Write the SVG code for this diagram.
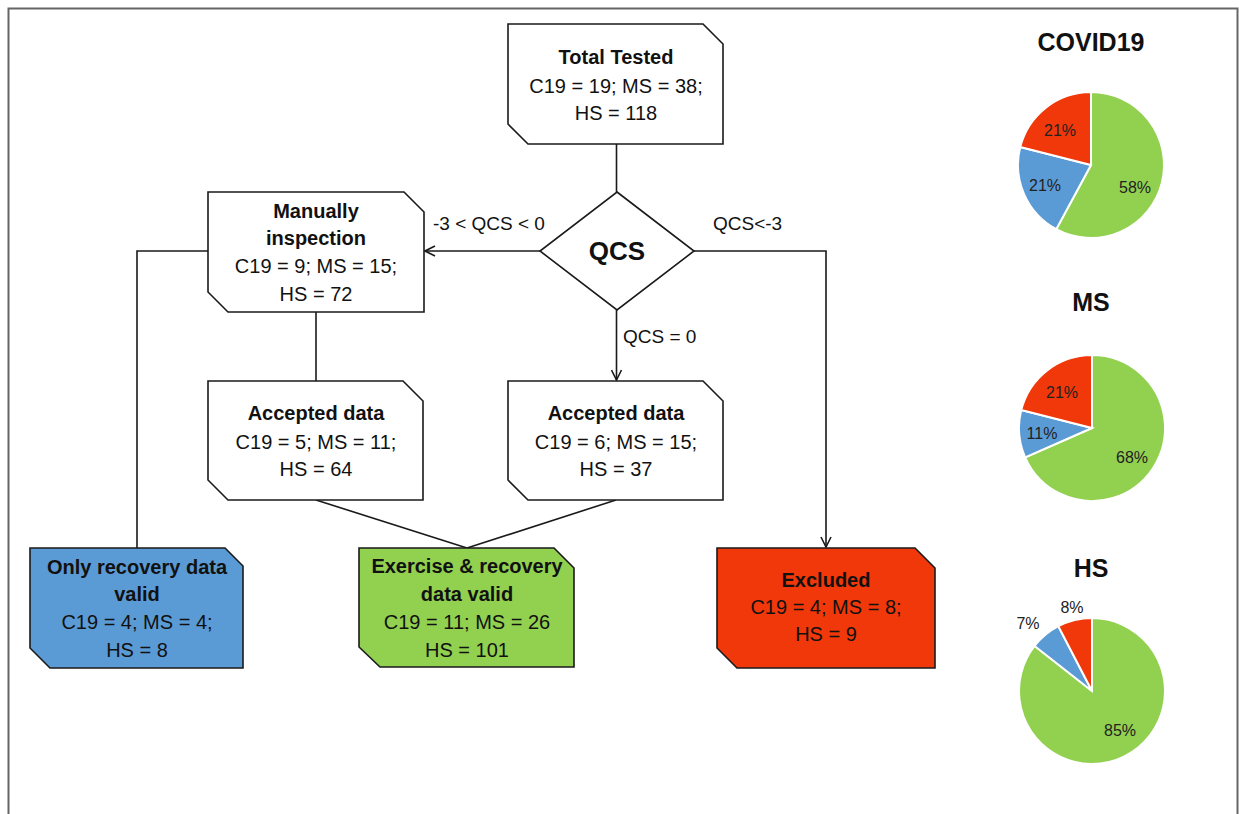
<svg xmlns="http://www.w3.org/2000/svg" width="1239" height="814" viewBox="0 0 1239 814">
<style>
.box{fill:#fff;stroke:#1a1a1a;stroke-width:1.6}
.t{font-family:"Liberation Sans",Arial,sans-serif;font-size:20px;fill:#111;text-anchor:middle}
.b{font-weight:bold}
.lbl{font-family:"Liberation Sans",Arial,sans-serif;font-size:19px;fill:#111}
.con{fill:none;stroke:#1a1a1a;stroke-width:1.6}
.pie path{stroke:#fff;stroke-width:2}
.pl{font-family:"Liberation Sans",Arial,sans-serif;font-size:16px;fill:#222;text-anchor:middle}
.ttl{font-family:"Liberation Sans",Arial,sans-serif;font-size:25px;font-weight:bold;fill:#111;text-anchor:middle}
</style>
<defs>
<marker id="arr" markerWidth="12" markerHeight="12" refX="11" refY="6" orient="auto" markerUnits="userSpaceOnUse">
<path d="M1,1 L11,6 L1,11" fill="none" stroke="#1a1a1a" stroke-width="1.6"/>
</marker>
</defs>
<rect x="0" y="0" width="1239" height="814" fill="#fff"/>
<rect x="8.5" y="8.5" width="1229" height="830" fill="none" stroke="#666" stroke-width="2"/>

<g id="connectors">
<line class="con" x1="616.5" y1="144" x2="616.5" y2="192"/>
<line class="con" x1="540" y1="251" x2="425" y2="251" marker-end="url(#arr)"/>
<path class="con" d="M694,251 H826 V547" marker-end="url(#arr)"/>
<line class="con" x1="616.5" y1="310" x2="616.5" y2="380" marker-end="url(#arr)"/>
<path class="con" d="M208,251 H137 V548"/>
<line class="con" x1="316" y1="312" x2="316" y2="381"/>
<line class="con" x1="316" y1="500" x2="467" y2="548"/>
<line class="con" x1="616" y1="500" x2="467" y2="548"/>
<text class="lbl" x="433" y="230">-3 &lt; QCS &lt; 0</text>
<text class="lbl" x="713" y="230">QCS&lt;-3</text>
<text class="lbl" x="623" y="343">QCS = 0</text>
</g>

<g id="total">
<polygon class="box" points="508,24 703,24 723,44 723,144 528,144 508,124"/>
<text class="t b" x="616" y="64">Total Tested</text>
<text class="t" x="616" y="93">C19 = 19; MS = 38;</text>
<text class="t" x="616" y="120">HS = 118</text>
</g>

<g id="qcs">
<polygon class="box" points="617,192 694,251 617,310 540,251"/>
<text class="t b" x="617" y="260" style="font-size:26px">QCS</text>
</g>

<g id="manual">
<polygon class="box" points="208,192 404,192 424,212 424,312 228,312 208,292"/>
<text class="t b" x="316" y="218">Manually</text>
<text class="t b" x="316" y="245">inspection</text>
<text class="t" x="316" y="273">C19 = 9; MS = 15;</text>
<text class="t" x="316" y="301">HS = 72</text>
</g>

<g id="acceptedLeft">
<polygon class="box" points="208,381 403,381 423,401 423,500 228,500 208,480"/>
<text class="t b" x="316" y="420">Accepted data</text>
<text class="t" x="316" y="449">C19 = 5; MS = 11;</text>
<text class="t" x="316" y="476">HS = 64</text>
</g>

<g id="acceptedRight">
<polygon class="box" points="508,381 703,381 723,401 723,500 528,500 508,480"/>
<text class="t b" x="616" y="420">Accepted data</text>
<text class="t" x="616" y="449">C19 = 6; MS = 15;</text>
<text class="t" x="616" y="476">HS = 37</text>
</g>

<g id="onlyRecovery">
<polygon class="box" style="fill:#5B9BD5" points="30,548 225,548 243,566 243,668 50,668 30,648"/>
<text class="t b" x="137" y="574">Only recovery data</text>
<text class="t b" x="137" y="601">valid</text>
<text class="t" x="137" y="629">C19 = 4; MS = 4;</text>
<text class="t" x="137" y="657">HS = 8</text>
</g>

<g id="exercise">
<polygon class="box" style="fill:#92D050" points="359,548 554,548 574,568 574,667 380,667 359,647"/>
<text class="t b" x="467" y="573">Exercise &amp; recovery</text>
<text class="t b" x="467" y="601">data valid</text>
<text class="t" x="467" y="629">C19 = 11; MS = 26</text>
<text class="t" x="467" y="657">HS = 101</text>
</g>

<g id="excluded">
<polygon class="box" style="fill:#F0380A" points="717,548 915,548 935,568 935,668 737,668 717,648"/>
<text class="t b" x="826" y="587">Excluded</text>
<text class="t" x="826" y="614">C19 = 4; MS = 8;</text>
<text class="t" x="826" y="641">HS = 9</text>
</g>

<g id="pieCovid" class="pie">
<text class="ttl" x="1091" y="51">COVID19</text>
<path fill="#92D050" d="M1091,165 L1091,92 A73,73 0 1,1 1056.26,229.2 Z"/>
<path fill="#5B9BD5" d="M1091,165 L1056.26,229.2 A73,73 0 0,1 1020.23,147.08 Z"/>
<path fill="#F0380A" d="M1091,165 L1020.23,147.08 A73,73 0 0,1 1091,92 Z"/>
<text class="pl" x="1060" y="136">21%</text>
<text class="pl" x="1045" y="191">21%</text>
<text class="pl" x="1135" y="193">58%</text>
</g>

<g id="pieMS" class="pie">
<text class="ttl" x="1091" y="311">MS</text>
<path fill="#92D050" d="M1092,428 L1092,355 A73,73 0 1,1 1025.15,457.32 Z"/>
<path fill="#5B9BD5" d="M1092,428 L1025.15,457.32 A73,73 0 0,1 1021.23,410.08 Z"/>
<path fill="#F0380A" d="M1092,428 L1021.23,410.08 A73,73 0 0,1 1092,355 Z"/>
<text class="pl" x="1062" y="398">21%</text>
<text class="pl" x="1042" y="439">11%</text>
<text class="pl" x="1132" y="463">68%</text>
</g>

<g id="pieHS" class="pie">
<text class="ttl" x="1091" y="577">HS</text>
<path fill="#92D050" d="M1092,691 L1092,618 A73,73 0 1,1 1034.57,645.93 Z"/>
<path fill="#5B9BD5" d="M1092,691 L1034.57,645.93 A73,73 0 0,1 1058.34,626.22 Z"/>
<path fill="#F0380A" d="M1092,691 L1058.34,626.22 A73,73 0 0,1 1092,618 Z"/>
<text class="pl" x="1072" y="613">8%</text>
<text class="pl" x="1028" y="629">7%</text>
<text class="pl" x="1120" y="736">85%</text>
</g>
</svg>
